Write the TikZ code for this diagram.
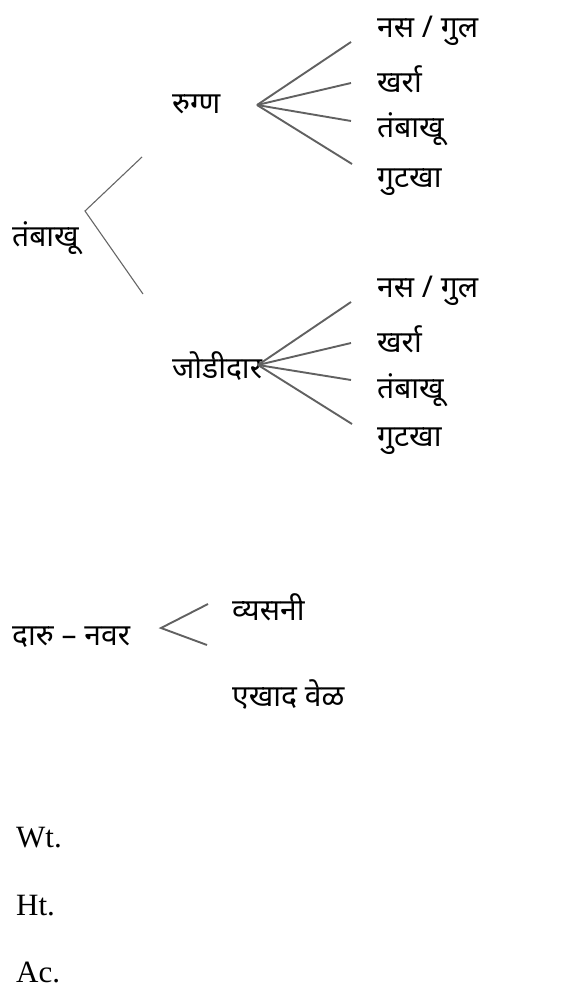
\documentclass[tikz,border=0pt]{standalone}
\usepackage{fontspec}
\setmainfont{Liberation Serif}
\newfontfamily\dev[Script=Devanagari]{Noto Sans}
\begin{document}
\begin{tikzpicture}[x=1pt,y=-1pt,
  dlab/.style={font=\dev\fontsize{30}{34}\selectfont, inner sep=0pt, anchor=west},
  llab/.style={font=\fontsize{31}{34}\selectfont, inner sep=0pt, anchor=west},
  thinline/.style={draw=black!60, line width=1.1pt},
  fanline/.style={draw=black!62, line width=1.9pt}]
\useasboundingbox (0,0) rectangle (578,1008);
% main tree
\node[dlab] (tob) at (12,238) {तंबाखू};
\coordinate (v0) at (85,211);
\coordinate (b1) at (142,157);
\coordinate (b2) at (143,294);
\draw[thinline] (b1) -- (v0) -- (b2);
\node[dlab] (rug) at (172,104) {रुग्ण};
\node[dlab] (jod) at (172,366) {जोडीदार};
% fan 1
\coordinate (a1) at (257,105);
\coordinate (e11) at (351,42);
\coordinate (e12) at (351,83);
\coordinate (e13) at (351,121);
\coordinate (e14) at (352,164);
\foreach \e in {e11,e12,e13,e14} \draw[fanline] (a1) -- (\e);
\node[dlab] (t11) at (377,31) {नस / गुल};
\node[dlab] (t12) at (377,79) {खर्रा};
\node[dlab] (t13) at (377,129) {तंबाखू};
\node[dlab] (t14) at (377,182) {गुटखा};
% fan 2
\coordinate (a2) at (258,365);
\coordinate (e21) at (351,302);
\coordinate (e22) at (351,343);
\coordinate (e23) at (351,380);
\coordinate (e24) at (352,424);
\foreach \e in {e21,e22,e23,e24} \draw[fanline] (a2) -- (\e);
\node[dlab] (t21) at (377,291) {नस / गुल};
\node[dlab] (t22) at (377,339) {खर्रा};
\node[dlab] (t23) at (377,390) {तंबाखू};
\node[dlab] (t24) at (377,441) {गुटखा};
% alcohol
\node[dlab] (daru) at (12,637) {दारु – नवर};
\coordinate (v3) at (161,628);
\coordinate (c1) at (208,604);
\coordinate (c2) at (207,645);
\draw[fanline] (c1) -- (v3) -- (c2);
\node[dlab] (vy) at (232,607) {व्यसनी};
\node[dlab] (ek) at (232,694) {एखाद वेळ};
% measures
\node[llab] (wt) at (16,838) {Wt.};
\node[llab] (ht) at (16,906) {Ht.};
\node[llab] (ac) at (16,972) {Ac.};
\end{tikzpicture}
\end{document}
